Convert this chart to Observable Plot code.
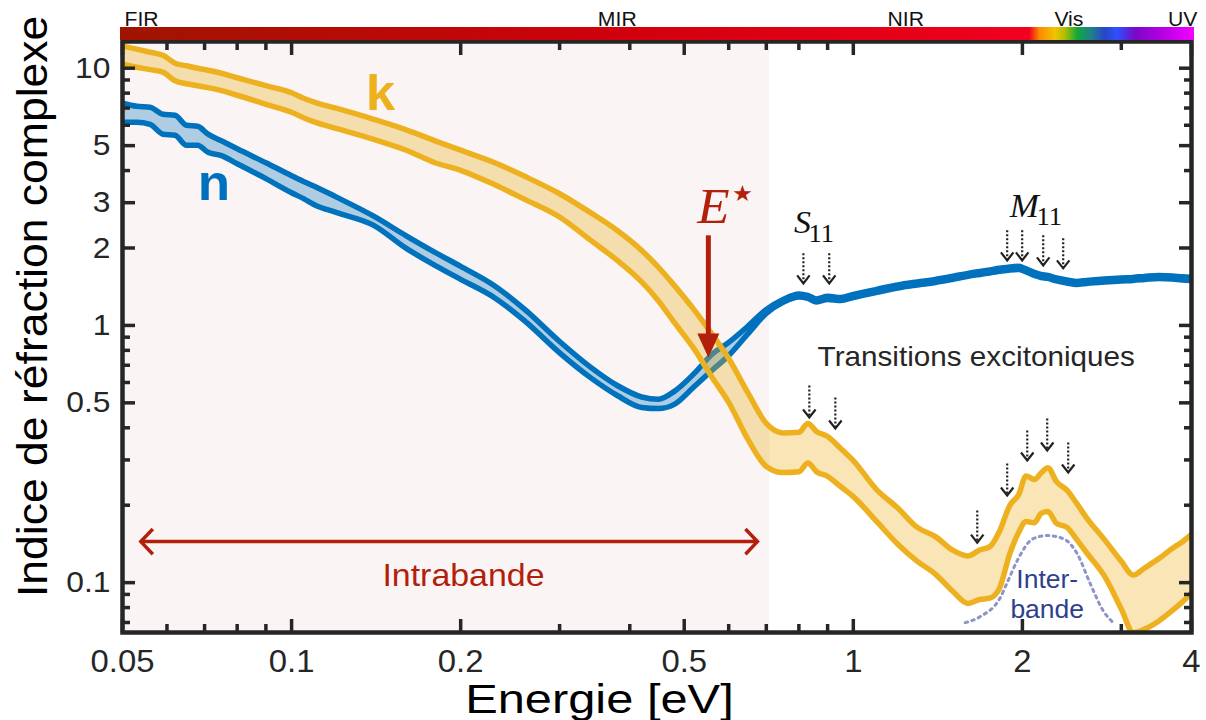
<!DOCTYPE html>
<html><head><meta charset="utf-8">
<script src="https://cdn.jsdelivr.net/npm/d3@7"></script>
<script src="https://cdn.jsdelivr.net/npm/@observablehq/plot@0.6"></script>
<style>
body{margin:0;background:#fff;}
#wrap{position:relative;width:1206px;height:720px;overflow:hidden;background:#fff;}
</style></head><body><div id="wrap"></div>
<script>
// ---------------- data ----------------
const energy = [0.05,0.053,0.056,0.059,0.062,0.065,0.068,0.071,0.075,0.08,0.09,0.1,0.105,0.11,0.12,0.14,0.16,0.18,0.2,0.23,0.26,0.3,0.34,0.38,0.42,0.45,0.48,0.52,0.56,0.6,0.65,0.7,0.75,0.8,0.83,0.86,0.9,0.95,1.0,1.1,1.2,1.3,1.4,1.5,1.6,1.68,1.75,1.82,1.9,1.97,2.03,2.1,2.16,2.22,2.3,2.4,2.5,2.6,2.8,3.0,3.15,3.3,3.5,3.7,3.85,4.0];
const nUpper = [7.31,7.11,7.05,6.62,6.56,6.00,5.95,5.54,5.22,4.86,4.29,3.82,3.63,3.47,3.16,2.66,2.23,1.923,1.697,1.424,1.154,0.866,0.690,0.584,0.527,0.516,0.554,0.648,0.771,0.859,0.996,1.154,1.262,1.326,1.308,1.268,1.297,1.285,1.320,1.381,1.437,1.476,1.510,1.551,1.594,1.622,1.644,1.667,1.689,1.697,1.659,1.608,1.579,1.565,1.530,1.503,1.483,1.496,1.516,1.530,1.537,1.551,1.565,1.558,1.545,1.537];
const nLower = [6.17,6.17,6.05,5.54,5.49,5.02,5.02,4.71,4.57,4.25,3.72,3.28,3.11,2.94,2.75,2.45,1.993,1.712,1.510,1.279,1.041,0.782,0.628,0.534,0.480,0.475,0.493,0.576,0.668,0.764,0.931,1.113,1.229,1.290,1.273,1.234,1.262,1.250,1.284,1.344,1.398,1.436,1.469,1.509,1.551,1.578,1.600,1.622,1.643,1.651,1.614,1.565,1.536,1.523,1.489,1.462,1.443,1.456,1.475,1.489,1.496,1.509,1.523,1.516,1.503,1.496];
const kUpper = [12.18,11.86,11.54,11.23,10.46,10.22,10.0,9.82,9.56,9.18,8.55,8.03,7.64,7.37,6.99,6.33,5.76,5.22,4.80,4.29,3.80,3.25,2.75,2.34,1.957,1.682,1.431,1.154,0.927,0.744,0.544,0.416,0.382,0.384,0.416,0.387,0.370,0.332,0.298,0.230,0.195,0.164,0.151,0.134,0.127,0.134,0.138,0.158,0.200,0.220,0.260,0.252,0.267,0.280,0.247,0.229,0.203,0.179,0.147,0.121,0.107,0.114,0.124,0.136,0.144,0.154];
const kLower = [10.37,10.09,9.87,9.65,8.94,8.70,8.55,8.40,8.18,7.85,7.24,6.74,6.42,6.17,5.84,5.29,4.80,4.29,4.01,3.52,3.09,2.64,2.15,1.790,1.476,1.245,1.027,0.814,0.630,0.502,0.359,0.283,0.268,0.270,0.292,0.270,0.259,0.236,0.216,0.173,0.141,0.121,0.108,0.093,0.083,0.086,0.087,0.095,0.130,0.157,0.173,0.171,0.186,0.189,0.170,0.164,0.147,0.131,0.106,0.079,0.064,0.066,0.071,0.078,0.084,0.091];

const interbandE = [1.582,1.683,1.826,1.879,1.958,2.091,2.214,2.364,2.503,2.641,2.785,2.901];
const interbandV = [0.0699,0.0738,0.0874,0.100,0.1218,0.1483,0.1524,0.1483,0.1297,0.0991,0.0778,0.0699];

const xTicksMajor = [0.05,0.1,0.2,0.5,1,2,4];
const xTicksMinor = [0.06,0.07,0.08,0.09,0.3,0.4,0.6,0.7,0.8,0.9,3];
const yTicksMajor = [0.1,0.5,1,2,3,5,10];
const yTicksMinor = [0.07,0.08,0.09,0.2,0.3,0.4,0.6,0.7,0.8,0.9,4,6,7,8,9];

const spectralBands = [
  {name:"FIR", e:0.05, anchor:"start"},
  {name:"MIR", e:0.38, anchor:"middle"},
  {name:"NIR", e:1.24, anchor:"middle"},
  {name:"Vis", e:2.42, anchor:"middle"},
  {name:"UV",  e:4.0,  anchor:"end"}
];
const spectrumStops = [
  {e:0.05,color:"#A01400"},{e:0.38,color:"#D0000C"},{e:1.24,color:"#E60018"},
  {e:2.06,color:"#F20020"},{e:2.15,color:"#FF8A00"},{e:2.29,color:"#F0C400"},
  {e:2.38,color:"#B4BE00"},{e:2.51,color:"#12A83A"},{e:2.66,color:"#1F7E8C"},
  {e:2.81,color:"#2945C8"},{e:2.95,color:"#2A52FF"},{e:3.18,color:"#7A08C6"},
  {e:3.52,color:"#B000E2"},{e:4.0,color:"#F000FF"}
];

const intraband = [{start:0.05, end:0.71}];
const intraArrow = [{from:0.0539, to:0.675, v:0.1444}];
const intraHeads = [{e:0.0539, v:0.1444, rot:90},{e:0.675, v:0.1444, rot:-90}];
const eStarArrow = [{e:0.552, top:2.24, base:0.86, tip:0.751}];
const excitonArrows = [
  {e:0.815,top:1.906,tip:1.457},{e:0.906,top:1.906,tip:1.457},
  {e:1.879,top:2.342,tip:1.790},{e:1.998,top:2.342,tip:1.790},
  {e:2.178,top:2.240,tip:1.712},{e:2.364,top:2.180,tip:1.667},
  {e:0.835,top:0.584,tip:0.4385},{e:0.929,top:0.5247,tip:0.3974},
  {e:1.662,top:0.1906,tip:0.1431},{e:1.879,top:0.2904,tip:0.2181},
  {e:2.040,top:0.3904,tip:0.2984},{e:2.214,top:0.4346,tip:0.3264},
  {e:2.413,top:0.3505,tip:0.268}
];
const seriesLabels = [{t:"k", e:0.144, v:6.865, color:"#EDB120"},{t:"n", e:0.0727, v:3.064, color:"#0072BD"}];
const italicLabels = [{t:"E", e:0.5635, v:2.494, size:50, color:"#B2200C"},{t:"S", e:0.8116, v:2.28, size:32, color:"#111"},{t:"M", e:2.015, v:2.632, size:33, color:"#111"}];
const subLabels = [{t:"11", e:0.877, v:2.104},{t:"11", e:2.233, v:2.449}];
const starLabel = [{t:"\u2605", e:0.6345, v:3.234}];
const noteLabels = [
  {t:"Transitions excitoniques", e:1.655, v:0.6927, size:28, color:"#262626"},
  {t:"Intrabande", e:0.2023, v:0.097, size:32, color:"#B2200C"},
  {t:"Inter-", e:2.214, v:0.0956, size:25, color:"#2F3F8E"},
  {t:"bande", e:2.214, v:0.0731, size:25, color:"#2F3F8E"}
];
const xTitle = [{t:"Energie [eV]", e:0.3532}];
const yTitle = [{t:"Indice de réfraction complexe", v:1.186}];

// ---------------- rendering ----------------
const FONT = "'Liberation Sans', Arial, Helvetica, sans-serif";
const SERIF = "'Liberation Serif', 'Times New Roman', serif";
const INK = "#262626", BLUE = "#0072BD", ORANGE = "#EDB120", DARKRED = "#B2200C";
const STRETCH = 1.06, TITLE_STRETCH = 1.22;

const rows = energy.map((e, i) => ({e, nU: nUpper[i], nL: nLower[i], kU: kUpper[i], kL: kLower[i]}));
const interband = interbandE.map((e, i) => ({e, v: interbandV[i]}));

const chevron = {draw(ctx, size) { const r = Math.sqrt(size / Math.PI); ctx.moveTo(-r * 0.78, -r); ctx.lineTo(0, 0); ctx.lineTo(r * 0.78, -r); }};
const chevronWide = {draw(ctx, size) { const r = Math.sqrt(size / Math.PI); ctx.moveTo(-r * 1.05, -r); ctx.lineTo(0, 0); ctx.lineTo(r * 1.05, -r); }};
const triangleDown = {draw(ctx, size) { const r = Math.sqrt(size / Math.PI); ctx.moveTo(0, 0); ctx.lineTo(-r * 0.46, -r); ctx.lineTo(r * 0.46, -r); ctx.closePath(); }};

const curve = "monotone-x";
const LW = 5.5;
const chart = Plot.plot({
  width: 1206, height: 720,
  marginLeft: 122, marginRight: 15, marginTop: 41, marginBottom: 88,
  x: {type: "log", domain: [0.05, 4]},
  y: {type: "log", domain: [0.064, 12.7]},
  style: {fontFamily: FONT, background: "transparent", color: INK},
  marks: [
    Plot.rect(intraband, {x1: "start", x2: "end", fill: "#FAF5F4"}),
    Plot.areaY(rows, {x: "e", y1: "nL", y2: "nU", fill: BLUE, fillOpacity: 0.3, curve, clip: true}),
    Plot.lineY(rows, {x: "e", y: "nU", stroke: BLUE, strokeWidth: LW, curve, clip: true}),
    Plot.lineY(rows, {x: "e", y: "nL", stroke: BLUE, strokeWidth: LW, curve, clip: true}),
    Plot.areaY(rows, {x: "e", y1: "kL", y2: "kU", fill: ORANGE, fillOpacity: 0.33, curve, clip: true}),
    Plot.lineY(rows, {x: "e", y: "kU", stroke: ORANGE, strokeWidth: LW, curve, clip: true}),
    Plot.lineY(rows, {x: "e", y: "kL", stroke: ORANGE, strokeWidth: LW, curve, clip: true}),
    Plot.line(interband, {x: "e", y: "v", stroke: "#8D95C6", strokeWidth: 3, strokeDasharray: "2.5,4.5", curve}),

    // Intraband double arrow
    Plot.link(intraArrow, {x1: "from", x2: "to", y1: "v", y2: "v", stroke: DARKRED, strokeWidth: 3.5}),
    Plot.dot(intraHeads, {x: "e", y: "v", rotate: "rot", symbol: chevronWide, r: 12, stroke: DARKRED, strokeWidth: 3.5, fill: "none"}),
    // E* arrow
    Plot.link(eStarArrow, {x1: "e", x2: "e", y1: "top", y2: "base", stroke: DARKRED, strokeWidth: 5}),
    Plot.dot(eStarArrow, {x: "e", y: "tip", symbol: triangleDown, r: 24, fill: DARKRED, stroke: "none"}),
    // excitonic dotted arrows
    Plot.link(excitonArrows, {x1: "e", x2: "e", y1: "top", y2: "tip", stroke: "#222", strokeWidth: 2.2, strokeDasharray: "2,2"}),
    Plot.dot(excitonArrows, {x: "e", y: "tip", symbol: chevron, r: 8, stroke: "#222", strokeWidth: 2.2, fill: "none"}),

    // labels
    Plot.text(seriesLabels, {x: "e", y: "v", text: "t", fill: "color", fontSize: 50, fontWeight: "bold", lineAnchor: "bottom"}),
    Plot.text(italicLabels, {x: "e", y: "v", text: "t", fill: "color", fontSize: d => d.size, fontFamily: SERIF, fontStyle: "italic", lineAnchor: "bottom"}),
    Plot.text(subLabels, {x: "e", y: "v", text: "t", fill: "#111", fontSize: 25, fontFamily: SERIF, lineAnchor: "bottom"}),
    Plot.text(starLabel, {x: "e", y: "v", text: "t", fill: DARKRED, fontSize: 22, fontFamily: "'DejaVu Sans', sans-serif", lineAnchor: "middle"}),
    Plot.text(noteLabels, {x: "e", y: "v", text: "t", fill: "color", fontSize: d => d.size, lineAnchor: "bottom"}),

    // spectral region labels above the frame
    Plot.text(spectralBands.filter(d => d.anchor === "start"), {x: "e", text: "name", frameAnchor: "top", dy: -16, dx: 2, lineAnchor: "bottom", textAnchor: "start", fontSize: 20, fill: "#111"}),
    Plot.text(spectralBands.filter(d => d.anchor === "middle"), {x: "e", text: "name", frameAnchor: "top", dy: -16, lineAnchor: "bottom", textAnchor: "middle", fontSize: 20, fill: "#111"}),
    Plot.text(spectralBands.filter(d => d.anchor === "end"), {x: "e", text: "name", frameAnchor: "top", dy: -16, dx: 6, lineAnchor: "bottom", textAnchor: "end", fontSize: 20, fill: "#111"}),

    // axis titles
    Plot.text(xTitle, {x: "e", text: "t", frameAnchor: "bottom", dy: 80, lineAnchor: "bottom", textAnchor: "middle", fontSize: 40, fill: "#000"}),
    Plot.text(yTitle, {y: "v", text: "t", frameAnchor: "left", dx: -76, rotate: -90, lineAnchor: "bottom", textAnchor: "middle", fontSize: 42, fill: "#000"}),

    // frame + inward ticks
    Plot.frame({stroke: INK, strokeWidth: 4.5}),
    Plot.axisX(xTicksMajor, {anchor: "bottom", tickSize: -13, strokeWidth: 3.5, stroke: INK, fill: "none", label: null}),
    Plot.axisX(xTicksMinor, {anchor: "bottom", tickSize: -8, strokeWidth: 3.5, stroke: INK, fill: "none", label: null}),
    Plot.axisX(xTicksMajor, {anchor: "top", tickSize: -13, strokeWidth: 3.5, stroke: INK, fill: "none", label: null}),
    Plot.axisX(xTicksMinor, {anchor: "top", tickSize: -8, strokeWidth: 3.5, stroke: INK, fill: "none", label: null}),
    Plot.axisY(yTicksMajor, {anchor: "left", tickSize: -13, strokeWidth: 3.5, stroke: INK, fill: "none", label: null}),
    Plot.axisY(yTicksMinor, {anchor: "left", tickSize: -8, strokeWidth: 3.5, stroke: INK, fill: "none", label: null}),
    Plot.axisY(yTicksMajor, {anchor: "right", tickSize: -13, strokeWidth: 3.5, stroke: INK, fill: "none", label: null}),
    Plot.axisY(yTicksMinor, {anchor: "right", tickSize: -8, strokeWidth: 3.5, stroke: INK, fill: "none", label: null}),
    // tick labels
    Plot.axisX(xTicksMajor, {anchor: "bottom", tickSize: 0, tickPadding: 17, fontSize: 31, fill: INK, label: null, tickFormat: d => String(d)}),
    Plot.axisY(yTicksMajor, {anchor: "left", tickSize: 0, tickPadding: 12, fontSize: 30, fill: INK, label: null, tickFormat: d => String(d)})
  ]
});

const wrap = document.getElementById("wrap");
wrap.appendChild(chart);

// mimic the horizontally wide lettering of the original
chart.querySelectorAll("text").forEach(t => {
  const tr = t.getAttribute("transform");
  const s = t.textContent === xTitle[0].t ? TITLE_STRETCH : STRETCH;
  if (tr) t.setAttribute("transform", tr + ` scale(${s},1)`);
});

// spectrum colour bar above the frame, positioned through the x scale
const xs = chart.scale("x");
const bx0 = xs.apply(0.05) - 2, bx1 = xs.apply(4) + 3;
const stops = spectrumStops.map(s => `${s.color} ${(((xs.apply(s.e) - bx0) / (bx1 - bx0)) * 100).toFixed(2)}%`).join(",");
const bar = document.createElement("div");
bar.style.cssText = `position:absolute;left:${bx0}px;top:27px;width:${bx1 - bx0}px;height:13px;background:linear-gradient(to right, ${stops});`;
wrap.appendChild(bar);
</script>
</body></html>
